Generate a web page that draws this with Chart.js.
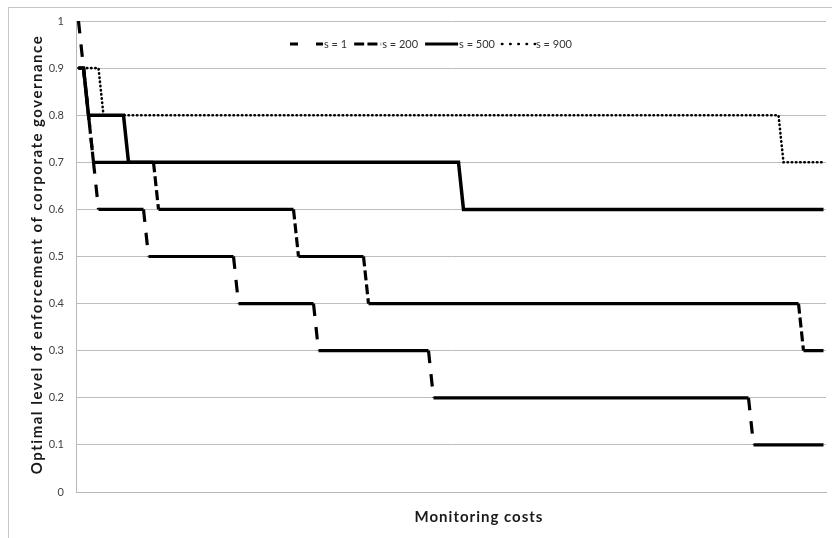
<!doctype html>
<html lang="en">
<head>
<meta charset="utf-8">
<title>Optimal enforcement and monitoring costs</title>
<script src="https://cdn.jsdelivr.net/npm/chart.js@4.4.1/dist/chart.umd.min.js"></script>
<style>
  html, body { margin: 0; padding: 0; background: #fff; }
  .wrap { position: relative; width: 832px; height: 538px; overflow: hidden; }
  .frame {
    position: absolute; left: 8px; top: 7px; width: 900px; height: 600px;
    border-left: 1px solid #c6c6c6; border-top: 1px solid #c6c6c6;
    pointer-events: none;
  }
  canvas { position: absolute; left: 0; top: 0; }
</style>
</head>
<body>
<div class="wrap">
  <canvas id="enforcementChart" width="832" height="538"></canvas>
  <div class="frame"></div>
</div>

<script>
// monitoring cost categories (no tick labels shown on the x axis)
const costs = [
  1, 2, 3, 4, 5, 6, 7, 8, 9, 10, 11, 12, 13, 14, 15,
  16, 17, 18, 19, 20, 21, 22, 23, 24, 25, 26, 27, 28, 29, 30,
  31, 32, 33, 34, 35, 36, 37, 38, 39, 40, 41, 42, 43, 44, 45,
  46, 47, 48, 49, 50, 51, 52, 53, 54, 55, 56, 57, 58, 59, 60,
  61, 62, 63, 64, 65, 66, 67, 68, 69, 70, 71, 72, 73, 74, 75,
  76, 77, 78, 79, 80, 81, 82, 83, 84, 85, 86, 87, 88, 89, 90,
  91, 92, 93, 94, 95, 96, 97, 98, 99, 100, 101, 102, 103, 104, 105,
  106, 107, 108, 109, 110, 111, 112, 113, 114, 115, 116, 117, 118, 119, 120,
  121, 122, 123, 124, 125, 126, 127, 128, 129, 130, 131, 132, 133, 134, 135,
  136, 137, 138, 139, 140, 141, 142, 143, 144, 145, 146, 147, 148, 149, 150
];

const seriesNames = ['s = 1', 's = 200', 's = 500', 's = 900'];

const s1 = [
  1, 0.9, 0.8, 0.7, 0.6, 0.6, 0.6, 0.6, 0.6, 0.6,
  0.6, 0.6, 0.6, 0.6, 0.5, 0.5, 0.5, 0.5, 0.5, 0.5,
  0.5, 0.5, 0.5, 0.5, 0.5, 0.5, 0.5, 0.5, 0.5, 0.5,
  0.5, 0.5, 0.4, 0.4, 0.4, 0.4, 0.4, 0.4, 0.4, 0.4,
  0.4, 0.4, 0.4, 0.4, 0.4, 0.4, 0.4, 0.4, 0.3, 0.3,
  0.3, 0.3, 0.3, 0.3, 0.3, 0.3, 0.3, 0.3, 0.3, 0.3,
  0.3, 0.3, 0.3, 0.3, 0.3, 0.3, 0.3, 0.3, 0.3, 0.3,
  0.3, 0.2, 0.2, 0.2, 0.2, 0.2, 0.2, 0.2, 0.2, 0.2,
  0.2, 0.2, 0.2, 0.2, 0.2, 0.2, 0.2, 0.2, 0.2, 0.2,
  0.2, 0.2, 0.2, 0.2, 0.2, 0.2, 0.2, 0.2, 0.2, 0.2,
  0.2, 0.2, 0.2, 0.2, 0.2, 0.2, 0.2, 0.2, 0.2, 0.2,
  0.2, 0.2, 0.2, 0.2, 0.2, 0.2, 0.2, 0.2, 0.2, 0.2,
  0.2, 0.2, 0.2, 0.2, 0.2, 0.2, 0.2, 0.2, 0.2, 0.2,
  0.2, 0.2, 0.2, 0.2, 0.2, 0.1, 0.1, 0.1, 0.1, 0.1,
  0.1, 0.1, 0.1, 0.1, 0.1, 0.1, 0.1, 0.1, 0.1, 0.1
];

const s200 = [
  0.9, 0.9, 0.8, 0.7, 0.7, 0.7, 0.7, 0.7, 0.7, 0.7,
  0.7, 0.7, 0.7, 0.7, 0.7, 0.7, 0.6, 0.6, 0.6, 0.6,
  0.6, 0.6, 0.6, 0.6, 0.6, 0.6, 0.6, 0.6, 0.6, 0.6,
  0.6, 0.6, 0.6, 0.6, 0.6, 0.6, 0.6, 0.6, 0.6, 0.6,
  0.6, 0.6, 0.6, 0.6, 0.5, 0.5, 0.5, 0.5, 0.5, 0.5,
  0.5, 0.5, 0.5, 0.5, 0.5, 0.5, 0.5, 0.5, 0.4, 0.4,
  0.4, 0.4, 0.4, 0.4, 0.4, 0.4, 0.4, 0.4, 0.4, 0.4,
  0.4, 0.4, 0.4, 0.4, 0.4, 0.4, 0.4, 0.4, 0.4, 0.4,
  0.4, 0.4, 0.4, 0.4, 0.4, 0.4, 0.4, 0.4, 0.4, 0.4,
  0.4, 0.4, 0.4, 0.4, 0.4, 0.4, 0.4, 0.4, 0.4, 0.4,
  0.4, 0.4, 0.4, 0.4, 0.4, 0.4, 0.4, 0.4, 0.4, 0.4,
  0.4, 0.4, 0.4, 0.4, 0.4, 0.4, 0.4, 0.4, 0.4, 0.4,
  0.4, 0.4, 0.4, 0.4, 0.4, 0.4, 0.4, 0.4, 0.4, 0.4,
  0.4, 0.4, 0.4, 0.4, 0.4, 0.4, 0.4, 0.4, 0.4, 0.4,
  0.4, 0.4, 0.4, 0.4, 0.4, 0.3, 0.3, 0.3, 0.3, 0.3
];

const s500 = [
  0.9, 0.9, 0.8, 0.8, 0.8, 0.8, 0.8, 0.8, 0.8, 0.8,
  0.7, 0.7, 0.7, 0.7, 0.7, 0.7, 0.7, 0.7, 0.7, 0.7,
  0.7, 0.7, 0.7, 0.7, 0.7, 0.7, 0.7, 0.7, 0.7, 0.7,
  0.7, 0.7, 0.7, 0.7, 0.7, 0.7, 0.7, 0.7, 0.7, 0.7,
  0.7, 0.7, 0.7, 0.7, 0.7, 0.7, 0.7, 0.7, 0.7, 0.7,
  0.7, 0.7, 0.7, 0.7, 0.7, 0.7, 0.7, 0.7, 0.7, 0.7,
  0.7, 0.7, 0.7, 0.7, 0.7, 0.7, 0.7, 0.7, 0.7, 0.7,
  0.7, 0.7, 0.7, 0.7, 0.7, 0.7, 0.7, 0.6, 0.6, 0.6,
  0.6, 0.6, 0.6, 0.6, 0.6, 0.6, 0.6, 0.6, 0.6, 0.6,
  0.6, 0.6, 0.6, 0.6, 0.6, 0.6, 0.6, 0.6, 0.6, 0.6,
  0.6, 0.6, 0.6, 0.6, 0.6, 0.6, 0.6, 0.6, 0.6, 0.6,
  0.6, 0.6, 0.6, 0.6, 0.6, 0.6, 0.6, 0.6, 0.6, 0.6,
  0.6, 0.6, 0.6, 0.6, 0.6, 0.6, 0.6, 0.6, 0.6, 0.6,
  0.6, 0.6, 0.6, 0.6, 0.6, 0.6, 0.6, 0.6, 0.6, 0.6,
  0.6, 0.6, 0.6, 0.6, 0.6, 0.6, 0.6, 0.6, 0.6, 0.6
];

const s900 = [
  0.9, 0.9, 0.9, 0.9, 0.9, 0.8, 0.8, 0.8, 0.8, 0.8,
  0.8, 0.8, 0.8, 0.8, 0.8, 0.8, 0.8, 0.8, 0.8, 0.8,
  0.8, 0.8, 0.8, 0.8, 0.8, 0.8, 0.8, 0.8, 0.8, 0.8,
  0.8, 0.8, 0.8, 0.8, 0.8, 0.8, 0.8, 0.8, 0.8, 0.8,
  0.8, 0.8, 0.8, 0.8, 0.8, 0.8, 0.8, 0.8, 0.8, 0.8,
  0.8, 0.8, 0.8, 0.8, 0.8, 0.8, 0.8, 0.8, 0.8, 0.8,
  0.8, 0.8, 0.8, 0.8, 0.8, 0.8, 0.8, 0.8, 0.8, 0.8,
  0.8, 0.8, 0.8, 0.8, 0.8, 0.8, 0.8, 0.8, 0.8, 0.8,
  0.8, 0.8, 0.8, 0.8, 0.8, 0.8, 0.8, 0.8, 0.8, 0.8,
  0.8, 0.8, 0.8, 0.8, 0.8, 0.8, 0.8, 0.8, 0.8, 0.8,
  0.8, 0.8, 0.8, 0.8, 0.8, 0.8, 0.8, 0.8, 0.8, 0.8,
  0.8, 0.8, 0.8, 0.8, 0.8, 0.8, 0.8, 0.8, 0.8, 0.8,
  0.8, 0.8, 0.8, 0.8, 0.8, 0.8, 0.8, 0.8, 0.8, 0.8,
  0.8, 0.8, 0.8, 0.8, 0.8, 0.8, 0.8, 0.8, 0.8, 0.8,
  0.8, 0.7, 0.7, 0.7, 0.7, 0.7, 0.7, 0.7, 0.7, 0.7
];

const yTickLabels = ['0', '0.1', '0.2', '0.3', '0.4', '0.5', '0.6', '0.7', '0.8', '0.9', '1'];
const xTitle = 'Monitoring costs';
const yTitle = 'Optimal level of enforcement of corporate governance';

const FONT = 'Lato, "Open Sans", sans-serif';

// Excel restarts the dash on every segment, so the short flat steps look solid
function flatSolid(dash) {
  return ctx => ctx.p0.parsed.y === ctx.p1.parsed.y ? [] : dash;
}

// legend drawn inside the plot, like the original
const inlineLegend = {
  id: 'inlineLegend',
  afterDraw(chart, args, opts) {
    const ctx = chart.ctx;
    let x = opts.x;
    const y = opts.y;
    ctx.save();
    ctx.font = opts.font;
    ctx.textBaseline = 'middle';
    chart.data.datasets.forEach(ds => {
      ctx.beginPath();
      ctx.setLineDash(ds.legendDash);
      ctx.lineWidth = ds.legendWidth;
      ctx.lineCap = ds.borderCapStyle || 'butt';
      ctx.strokeStyle = ds.borderColor;
      ctx.moveTo(x, y);
      ctx.lineTo(x + ds.legendLength, y);
      ctx.stroke();
      x += ds.legendLength + 1;
      ctx.fillStyle = opts.color;
      ctx.fillText(ds.label, x, y);
      x += ctx.measureText(ds.label).width + opts.gap;
    });
    ctx.restore();
  }
};

// axis titles: the original has them spaced out and the x one sits right of centre
const axisTitles = {
  id: 'axisTitles',
  afterDraw(chart, args, opts) {
    const {ctx, chartArea} = chart;
    ctx.save();
    ctx.fillStyle = opts.color;
    ctx.font = opts.font;
    ctx.textAlign = 'center';
    ctx.textBaseline = 'middle';
    if ('letterSpacing' in ctx) ctx.letterSpacing = opts.xSpacing + 'px';
    ctx.fillText(xTitle, opts.xCenter, opts.xBaseY);
    if ('letterSpacing' in ctx) ctx.letterSpacing = opts.ySpacing + 'px';
    ctx.translate(opts.yCenterX, (chartArea.top + chartArea.bottom) / 2 - 2);
    ctx.rotate(-Math.PI / 2);
    ctx.fillText(yTitle, 0, 0);
    ctx.restore();
  }
};

const config = {
  type: 'line',
  data: {
    labels: costs,
    datasets: [
      {
        label: seriesNames[0],
        data: s1,
        borderColor: '#000',
        borderWidth: 3.2,
        borderDash: [12.5, 11],
        segment: { borderDash: flatSolid([12.5, 11]) },
        legendDash: [8, 18], legendWidth: 3, legendLength: 33
      },
      {
        label: seriesNames[1],
        data: s200,
        borderColor: '#000',
        borderWidth: 3.2,
        borderDash: [10, 4],
        segment: { borderDash: flatSolid([10, 4]) },
        legendDash: [10, 3.3], legendWidth: 3, legendLength: 27
      },
      {
        label: seriesNames[2],
        data: s500,
        borderColor: '#000',
        borderWidth: 3.5,
        legendDash: [], legendWidth: 3, legendLength: 33
      },
      {
        label: seriesNames[3],
        data: s900,
        borderColor: '#000',
        borderWidth: 2.6,
        borderCapStyle: 'round',
        borderDash: [0.4, 3.8],
        legendDash: [0.4, 7.8], legendWidth: 2.6, legendLength: 33
      }
    ]
  },
  options: {
    responsive: false,
    animation: false,
    layout: { padding: { top: 21, right: 6, bottom: 0, left: 0 } },
    elements: {
      point: { radius: 0, hoverRadius: 0 },
      line: { tension: 0, borderJoinStyle: 'miter' }
    },
    plugins: {
      legend: { display: false },
      tooltip: { enabled: false },
      inlineLegend: { x: 290, y: 44, gap: 7, font: '11px ' + FONT, color: '#333' },
      axisTitles: {
        font: 'bold 15px ' + FONT,
        color: '#1a1a1a',
        xCenter: 479, xBaseY: 517, xSpacing: 1,
        yCenterX: 37, ySpacing: 1.5
      }
    },
    scales: {
      x: {
        type: 'category',
        offset: true,
        grid: { display: false },
        border: { display: true, color: '#b8b8b8' },
        ticks: { display: false },
        afterFit: scale => { scale.height = 46; }
      },
      y: {
        min: 0,
        max: 1,
        afterFit: scale => { scale.width = 76; },
        grid: { color: '#bdbdbd', drawTicks: false },
        border: { display: true, color: '#b8b8b8' },
        ticks: {
          stepSize: 0.1,
          padding: 12,
          color: '#404040',
          font: { family: FONT, size: 11 },
          callback: (v, i) => yTickLabels[i]
        }
      }
    }
  },
  plugins: [inlineLegend, axisTitles]
};

const enforcementChart = new Chart(document.getElementById('enforcementChart'), config);
</script>
</body>
</html>
